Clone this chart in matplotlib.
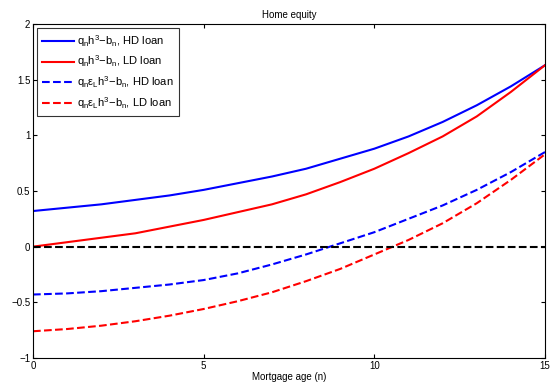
import numpy as np
import matplotlib
matplotlib.use("Agg")
import matplotlib.pyplot as plt

plt.rcParams["font.family"] = ["Liberation Sans", "DejaVu Sans"]
plt.rcParams["mathtext.default"] = "regular"

age = np.arange(0, 16)
hd_loan = [0.32, 0.35, 0.38, 0.42, 0.46, 0.51, 0.57, 0.63, 0.70, 0.79, 0.88, 0.99, 1.12, 1.27, 1.44, 1.63]
ld_loan = [0.0, 0.04, 0.08, 0.12, 0.18, 0.24, 0.31, 0.38, 0.47, 0.58, 0.70, 0.84, 0.99, 1.17, 1.39, 1.63]
hd_loan_eps = [-0.43, -0.42, -0.40, -0.37, -0.34, -0.30, -0.24, -0.16, -0.07, 0.03, 0.13, 0.25, 0.37, 0.51, 0.67, 0.85]
ld_loan_eps = [-0.76, -0.74, -0.71, -0.67, -0.62, -0.56, -0.49, -0.41, -0.31, -0.20, -0.07, 0.06, 0.21, 0.39, 0.60, 0.83]

labels = [
    "q$_n$h$^3$\u2212b$_n$, HD loan",
    "q$_n$h$^3$\u2212b$_n$, LD loan",
    "q$_n$\u03b5$_L$h$^3$\u2212b$_n$, HD loan",
    "q$_n$\u03b5$_L$h$^3$\u2212b$_n$, LD loan",
]


def main():
    fig = plt.figure(figsize=(5.5, 3.87), dpi=100)
    ax = fig.add_axes([0.06, 0.075, 0.931, 0.863])

    ax.plot(age, hd_loan, "b-", linewidth=1.5, label=labels[0])
    ax.plot(age, ld_loan, "r-", linewidth=1.5, label=labels[1])
    ax.plot(age, hd_loan_eps, "b--", linewidth=1.5, label=labels[2])
    ax.plot(age, ld_loan_eps, "r--", linewidth=1.5, label=labels[3])
    ax.plot(age, np.zeros(len(age)), "k--", linewidth=1.5)

    ax.set_xlim(0, 15)
    ax.set_ylim(-1, 2)
    ax.set_xticks([0, 5, 10, 15])
    ax.set_yticks([-1, -0.5, 0, 0.5, 1, 1.5, 2])
    ax.set_yticklabels(["\u22121", "\u22120.5", "0", "0.5", "1", "1.5", "2"])
    ax.tick_params(direction="in", top=True, right=True, labelsize=7, length=3, pad=2)
    ax.set_xlabel("Mortgage age (n)", fontsize=7, labelpad=1)
    ax.set_title("Home equity", fontsize=7, pad=4)

    leg = ax.legend(loc="upper left", fontsize=8, frameon=True, fancybox=False,
                    edgecolor="black", handlelength=2.9, borderaxespad=0.4,
                    labelspacing=0.45, handletextpad=0.3, borderpad=0.4)
    leg.get_frame().set_linewidth(0.8)

    fig.savefig("out.png", dpi=100)


if __name__ == "__main__":
    main()
